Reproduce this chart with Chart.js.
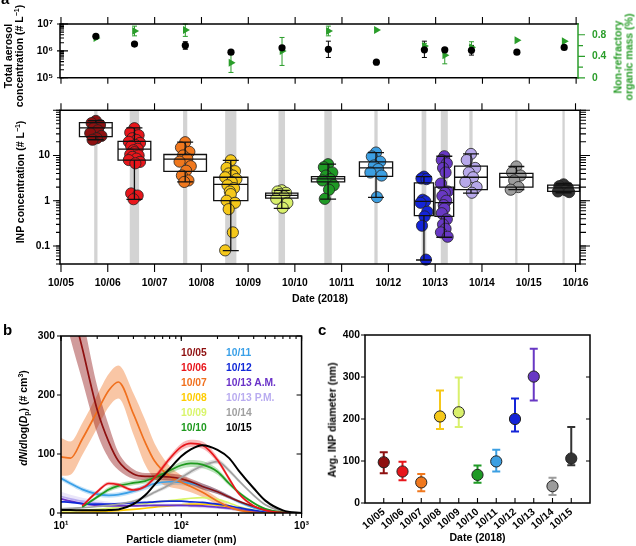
<!DOCTYPE html>
<html><head><meta charset="utf-8">
<script src="https://cdn.jsdelivr.net/npm/chart.js@4.4.1/dist/chart.umd.min.js"></script>
<style>
html,body{margin:0;padding:0;background:#fff;}
#wrap{position:relative;width:636px;height:546px;overflow:hidden;font-family:'Liberation Sans',Arial,sans-serif;}
canvas{position:absolute;}
.t{position:absolute;font-weight:bold;white-space:nowrap;line-height:12px;font-size:10.3px;}
.vt{position:absolute;transform:translate(-50%,-50%) rotate(-90deg);white-space:nowrap;font-weight:bold;font-size:10.5px;line-height:10.5px;text-align:center;}
sup{font-size:7px;vertical-align:4px;line-height:0;}
sub{font-size:7px;vertical-align:-2px;line-height:0;}
</style></head><body>
<div id="wrap">
<canvas id="cA1" width="636" height="98" style="left:0px;top:0px"></canvas>
<canvas id="cA2" width="636" height="216" style="left:0px;top:94px"></canvas>
<canvas id="cB" width="316" height="228" style="left:0px;top:318px"></canvas>
<canvas id="cC" width="320" height="228" style="left:316px;top:318px"></canvas>

<div class="t" style="left:1px;top:-9px;font-size:15px;line-height:15px">a</div>
<div class="t" style="left:3px;top:322px;font-size:15px;line-height:15px">b</div>
<div class="t" style="left:318px;top:322px;font-size:15px;line-height:15px">c</div>

<div class="vt" style="left:13px;top:56px">Total aerosol<br>concentration (# L<sup>−1</sup>)</div>
<div class="vt" style="left:20px;top:182px">INP concentration (# L<sup>−1</sup>)</div>
<div class="vt" style="left:623px;top:57px;color:#2a9d2a">Non-refractory<br>organic mass (%)</div>
<div class="vt" style="left:23px;top:418px"><i>dN</i>/<i>d</i>log(<i>D</i><sub>p</sub>) (# cm<sup>3</sup>)</div>
<div class="vt" style="left:332px;top:420px">Avg. INP diameter (nm)</div>
<div id="legB"></div>
</div>
<script>
// ================= DATA =================
// panel a : x = days since 10/05 00:00
const dayLabels = ['10/05','10/06','10/07','10/08','10/09','10/10','10/11','10/12','10/13','10/14','10/15','10/16'];
const sampleNames = ['10/05','10/06','10/07','10/08','10/09','10/10','10/11','10/12','10/13 A.M.','10/13 P.M.','10/14','10/15'];
const sampleStart = [0.71, 1.47, 2.61, 3.51, 4.65, 5.63, 6.70, 7.71, 8.12, 8.73, 9.71, 10.72];
const sampleEnd   = [0.78, 1.67, 2.70, 3.75, 4.79, 5.79, 6.77, 7.81, 8.27, 8.80, 9.76, 10.77];

const totalAerosol = [3.5e6, 1.8e6, 1.6e6, 9.0e5, 1.3e6, 1.15e6, 3.8e5, 1.1e6, 1.1e6, 1.05e6, 9.0e5, 1.35e6];
const totalLo      = [3.5e6, 1.8e6, 1.15e6, 9.0e5, 1.1e6, 5.7e5, 3.5e5, 5.7e5, 8.5e5, 7.0e5, 9.0e5, 1.35e6];
const totalHi      = [3.5e6, 1.8e6, 2.2e6, 9.0e5, 1.5e6, 2.3e6, 4.2e5, 2.3e6, 1.3e6, 1.6e6, 9.0e5, 1.35e6];

const organicFrac = [0.74, 0.87, 0.89, 0.28, 0.50, 0.87, 0.89, 0.59, 0.42, 0.57, 0.70, 0.68];
const organicLo   = [0.74, 0.78, 0.77, 0.10, 0.23, 0.78, 0.89, 0.54, 0.26, 0.49, 0.70, 0.68];
const organicHi   = [0.74, 0.96, 1.00, 0.46, 0.75, 0.96, 0.89, 0.64, 0.52, 0.67, 0.70, 0.68];

const boxWhiskLo = [22.2, 1.07, 2.6, 0.079, 0.68, 1.08, 1.19, 0.049, 0.156, 1.47, 1.75, 1.5];
const boxQ1      = [26, 7.9, 4.47, 1.0, 1.14, 2.6, 3.45, 0.47, 0.45, 1.75, 2.0, 1.61];
const boxMedian  = [40.6, 13.8, 8.3, 2.3, 1.31, 3.05, 5.3, 0.97, 0.91, 3.3, 3.3, 1.92];
const boxQ3      = [53, 20.5, 10.5, 3.3, 1.47, 3.4, 7.2, 2.47, 1.99, 5.8, 4.0, 2.2];
const boxWhiskHi = [58.6, 40.6, 19.6, 7.8, 1.69, 6.4, 11.6, 3.4, 9.6, 10.8, 5.7, 2.4];

const inp1005 = [58, 52, 47, 40, 36, 31, 27, 24, 22.2];
const inp1006 = [40, 32, 28, 24, 22, 20, 18.9, 17, 16, 14, 13, 11.8, 10.5, 10, 9.3, 8.5, 7.9, 7.2, 6.7, 1.45, 1.3, 1.08];
const inp1007 = [19.6, 15, 12, 10, 8.5, 7.3, 5.8, 4.6, 3.6, 2.8, 2.6];
const inp1008 = [7.8, 5.3, 4.5, 4.0, 3.6, 3.3, 3.0, 2.6, 2.2, 1.9, 1.6, 1.4, 1.0, 0.9, 0.65, 0.2, 0.08];
const inp1009 = [1.7, 1.6, 1.5, 1.4, 1.25, 1.1, 0.9, 0.7];
const inp1010 = [6.4, 5.5, 4.2, 3.6, 3.0, 2.8, 2.2, 1.75, 1.1];
const inp1011 = [11.6, 9.5, 7.3, 6.0, 5.0, 4.2, 3.6, 1.2];
const inp1012 = [3.4, 3.1, 3.0, 1.05, 0.97, 0.9, 0.57, 0.45, 0.28, 0.05];
const inp1013am = [9.6, 7.9, 6.7, 5.3, 4.2, 2.4, 1.6, 1.5, 1.27, 1.0, 0.8, 0.67, 0.53, 0.39, 0.3, 0.24, 0.2, 0.16];
const inp1013pm = [10.8, 7.9, 5.3, 4.2, 3.3, 2.6, 2.0, 1.5];
const inp1014 = [5.7, 4.2, 3.6, 2.8, 2.0, 1.75];
const inp1015 = [2.3, 2.1, 1.95, 1.8, 1.7, 1.6, 1.55];

// panel b : size distributions
const sizeNm = [10, 12, 15, 20, 25, 30, 40, 50, 60, 80, 100, 120, 150, 200, 250, 300, 400, 500, 700, 1000];
const psd1005 = [430, 360, 280, 175, 120, 88, 66, 62, 62, 61, 58, 53, 45, 36, 27, 20, 11, 5, 1, 0];
const psd1006 = [null, null, 12, 36, 50, 48, 39, 45, 60, 92, 112, 118, 115, 90, 58, 33, 12, 4.5, 0.5, 0];
const psd1007 = [95, 93, 125, 172, 208, 222, 168, 120, 88, 62, 52, 45, 35, 20, 10, 5, 1, 0.3, 0, 0];
const psd1008 = [1, 1, 1.5, 2, 3, 4, 6, 8, 10, 12, 14, 15, 15, 13, 10, 7, 3, 1.5, 0.3, 0];
const psd1009 = [4, 4, 5, 6, 8, 10, 13, 16, 18, 21, 23, 25, 26, 23, 17, 11, 5, 2, 0.5, 0];
const psd1010 = [null, null, 10, 27, 40, 46, 51, 54, 60, 72, 81, 84, 82, 70, 50, 35, 17, 7, 1, 0];
const psd1011 = [59, 50, 40, 32, 30, 31, 37, 44, 50, 53, 52, 50, 45, 36, 27, 19, 9, 4, 1, 0];
const psd1012 = [19, 18, 16, 15, 15, 16, 17, 18, 19, 20, 20, 19, 18, 15, 12, 9, 4.5, 2, 0.5, 0];
const psd1013am = [24, 20, 16, 13, 12, 12, 12, 12.5, 13, 13, 13, 12.5, 12, 10, 8, 6, 3, 1.5, 0.3, 0];
const psd1013pm = [28, 24, 20, 17, 15, 14, 13, 13, 13, 13, 13, 12, 11, 9, 7, 5, 2.5, 1, 0.2, 0];
const psd1014 = [7, 8, 9, 11, 13, 15, 20, 27, 35, 48, 60, 70, 80, 87, 72, 55, 30, 14, 3, 0];
const psd1015 = [5, 5, 4.5, 4.5, 5, 6, 15, 30, 48, 75, 96, 108, 115, 107, 93, 72, 42, 21, 4.5, 0];
// shaded spread (half width)
const sd1005 = [70, 65, 55, 40, 28, 15, 8, 6, 6, 6, 6, 5, 5, 4, 3, 2, 1, 0.5, 0, 0];
const sd1006 = [null, null, 2, 3, 3, 3, 3, 3, 4, 5, 6, 6, 6, 5, 4, 3, 2, 1, 0, 0];
const sd1007 = [32, 28, 27, 28, 28, 28, 35, 38, 30, 18, 12, 10, 8, 6, 4, 2, 1, 0, 0, 0];
const sd1010 = [null, null, 2, 3, 4, 4, 4, 4, 5, 5, 6, 6, 6, 5, 4, 3, 2, 1, 0, 0];
const sd1011 = [4, 4, 4, 4, 4, 4, 4, 5, 5, 5, 5, 5, 5, 4, 3, 3, 2, 1, 0, 0];
const sd1013pm = [8, 7, 6, 5, 4, 3, 3, 3, 3, 3, 3, 3, 3, 2, 2, 1, 1, 0, 0, 0];
const sd1014 = [1, 1, 1, 1, 1, 2, 2, 3, 3, 4, 4, 4, 4, 4, 4, 3, 2, 1, 0, 0];

// panel c
const avgDates = ['10/05','10/06','10/07','10/08','10/09','10/10','10/11','10/12','10/13','10/14','10/15'];
const avgDiam = [97, 75, 49, 206, 216, 67, 99, 200, 301, 40, 106];
const avgHi   = [121, 98, 69, 268, 299, 89, 127, 249, 367, 60, 181];
const avgLo   = [71, 54, 28, 176, 181, 48, 75, 170, 244, 19, 90];

// ================= STYLE =================
const GREEN = '#2a9d2a';
const sampleColors = ['#8e1010','#e8161b','#f0781e','#f5c81a','#d9f06c','#1f9a25','#3c9fe2','#1424d8','#6838c4','#b7a8ea','#9c9c9c','#333333'];
const psdColors    = ['#8e1010','#e8161b','#f0701e','#ffcc00','#d9f56b','#1f9a1f','#3aa0e8','#1028d8','#6a32c8','#b9acf0','#a0a0a0','#000000'];
const avgColors    = ['#8e1010','#e8161b','#f0781e','#f5c81a','#d9f06c','#1f9a25','#3c9fe2','#1424d8','#6838c4','#9c9c9c','#333333'];
const boxWidthDays = [0.70,0.70,0.91,0.73,0.69,0.71,0.71,0.41,0.40,0.70,0.71,0.68];
const jitter = [0, -0.09, 0.09, -0.045, 0.045, -0.12, 0.12, 0.02, -0.07, 0.07, -0.02];

Chart.defaults.font.family = "'Liberation Sans', Arial, sans-serif";
Chart.defaults.font.size = 10.3;
Chart.defaults.font.weight = 'bold';
Chart.defaults.color = '#000';

const sampleMid = sampleStart.map((s,i)=>(s+sampleEnd[i])/2);
const fixW = w => s => { s.width = w; };
const fixH = h => s => { s.height = h; };
const setTicks = vals => s => { s.ticks = vals.map(v=>({value:v})); };
const noGrid = {display:false, drawTicks:false};
const noBorder = {display:false};
const SUP = {'-':'⁻','0':'⁰','1':'¹','2':'²','3':'³','4':'⁴','5':'⁵','6':'⁶','7':'⁷','8':'⁸','9':'⁹'};
const expLabel = v => '10' + String(Math.round(Math.log10(v))).split('').map(ch=>SUP[ch]).join('');
function logMinor(lo, hi){ const out=[]; for(let e=Math.floor(Math.log10(lo)); e<=Math.ceil(Math.log10(hi)); e++){ for(let m=1;m<10;m++){ const v=m*Math.pow(10,e); if(v>=lo*0.999 && v<=hi*1.001) out.push(v);} } return out; }
const range = (a,b,st=1)=>{const o=[];for(let v=a;v<=b+1e-9;v+=st)o.push(v);return o;};

function drawTicks(chart, id, values, side, outLen, inLen, color, lw){
  const ctx=chart.ctx, a=chart.chartArea, s=chart.scales[id];
  ctx.save(); ctx.strokeStyle=color||'#000'; ctx.lineWidth=lw||1.1; ctx.beginPath();
  values.forEach(v=>{
    const p=s.getPixelForValue(v);
    if(side==='left'){ctx.moveTo(a.left-outLen,p);ctx.lineTo(a.left+inLen,p);}
    else if(side==='right'){ctx.moveTo(a.right+outLen,p);ctx.lineTo(a.right-inLen,p);}
    else if(side==='top'){ctx.moveTo(p,a.top-outLen);ctx.lineTo(p,a.top+inLen);}
    else {ctx.moveTo(p,a.bottom+outLen);ctx.lineTo(p,a.bottom-inLen);}
  });
  ctx.stroke(); ctx.restore();
}
function drawFrame(chart, sides, color, lw){
  const ctx=chart.ctx, a=chart.chartArea;
  ctx.save(); ctx.strokeStyle=color||'#000'; ctx.lineWidth=lw||1.5; ctx.lineCap='square'; ctx.beginPath();
  if(sides.includes('t')){ctx.moveTo(a.left,a.top);ctx.lineTo(a.right,a.top);}
  if(sides.includes('b')){ctx.moveTo(a.left,a.bottom);ctx.lineTo(a.right,a.bottom);}
  if(sides.includes('l')){ctx.moveTo(a.left,a.top);ctx.lineTo(a.left,a.bottom);}
  if(sides.includes('r')){ctx.moveTo(a.right,a.top);ctx.lineTo(a.right,a.bottom);}
  ctx.stroke(); ctx.restore();
}
function errBar(ctx, x, y0, y1, cap, color, lw){
  ctx.save(); ctx.strokeStyle=color; ctx.lineWidth=lw; ctx.beginPath();
  ctx.moveTo(x,y0); ctx.lineTo(x,y1);
  ctx.moveTo(x-cap,y0); ctx.lineTo(x+cap,y0);
  ctx.moveTo(x-cap,y1); ctx.lineTo(x+cap,y1);
  ctx.stroke(); ctx.restore();
}

const X0 = -0.021;
const commonOpts = {responsive:false, animation:false, devicePixelRatio:1, plugins:{legend:{display:false}, tooltip:{enabled:false}}};
const titleFont = {size:10.5, weight:'bold'};

// ================= PANEL a (top) =================
new Chart(document.getElementById('cA1'), {
  type:'scatter',
  data:{datasets:[
    {data: sampleMid.map((x,i)=>({x, y: totalAerosol[i]})), yAxisID:'y', pointRadius:3.6, backgroundColor:'#000', borderColor:'#000', borderWidth:0},
    {data: sampleMid.map((x,i)=>({x, y: organicFrac[i]})), yAxisID:'y2', pointStyle:'triangle', rotation:90, pointRadius:4.6, backgroundColor:GREEN, borderColor:GREEN, borderWidth:0}
  ]},
  options:Object.assign({}, commonOpts, {
    layout:{padding:0}, clip:false,
    scales:{
      x:{type:'linear', position:'bottom', min:X0, max:11.04, ticks:{display:false}, grid:noGrid, border:noBorder, afterFit:fixH(8)},
      xt:{type:'linear', position:'top', min:X0, max:11.04, ticks:{display:false}, grid:noGrid, border:noBorder, afterFit:fixH(24)},
      y:{type:'logarithmic', position:'left', min:1e5, max:1e7, afterBuildTicks:setTicks([1e5,1e6,1e7]), ticks:{padding:7, callback:v=>expLabel(v)}, grid:noGrid, border:noBorder, afterFit:fixW(60)},
      y2:{type:'linear', position:'right', min:0, max:1, afterBuildTicks:setTicks([0,0.4,0.8]), ticks:{padding:14, color:GREEN, callback:v=>v===0?'0':v.toFixed(1)}, grid:noGrid, border:noBorder, afterFit:fixW(58)}
    }
  }),
  plugins:[{id:'a1deco',
    beforeDatasetsDraw(c){
      const ctx=c.ctx, x=c.scales.x, y=c.scales.y, y2=c.scales.y2;
      sampleMid.forEach((d,i)=>{
        const px=x.getPixelForValue(d);
        if(totalHi[i]>totalLo[i]) errBar(ctx, px, y.getPixelForValue(totalLo[i]), y.getPixelForValue(totalHi[i]), 2.5, '#000', 1);
        if(organicHi[i]>organicLo[i]) errBar(ctx, px, y2.getPixelForValue(organicLo[i]), y2.getPixelForValue(organicHi[i]), 2.5, GREEN, 1);
      });
    },
    afterDraw(c){
      drawFrame(c,'tbl','#000',1.5);
      drawFrame(c,'r',GREEN,1.5);
      drawTicks(c,'x',range(0,11),'top',7,0);
      drawTicks(c,'x',range(0,11),'bottom',6,0);
      drawTicks(c,'y',[1e5,1e6,1e7],'left',3,8);
      drawTicks(c,'y',logMinor(1e5,1e7),'left',0,4);
      drawTicks(c,'y2',[0,0.4,0.8],'right',7,0,GREEN,1.2);
      drawTicks(c,'y2',[0.2,0.6],'right',5,0,GREEN,1.2);
    }
  }]
});

// ================= PANEL a (INP box plots) =================
const inpGroups = [inp1005, inp1006, inp1007, inp1008, inp1009, inp1010, inp1011, inp1012, inp1013am, inp1013pm, inp1014, inp1015];
new Chart(document.getElementById('cA2'), {
  type:'scatter',
  data:{datasets: inpGroups.map((arr,g)=>({
    label: sampleNames[g],
    data: arr.map((v,j)=>({x: sampleMid[g] + jitter[j%jitter.length]*(boxWidthDays[g]<0.5?0.6:1), y:v})),
    pointRadius:5.6, backgroundColor:sampleColors[g], borderColor:'#222', borderWidth:0.8
  }))},
  options:Object.assign({}, commonOpts, {
    layout:{padding:{top:7, right:56}}, clip:false,
    scales:{
      x:{type:'linear', position:'bottom', min:X0, max:11.096, afterBuildTicks:setTicks(range(0,11)),
         ticks:{padding:13, autoSkip:false, maxRotation:0, callback:v=>dayLabels[Math.round(v)]},
         grid:noGrid, border:noBorder, afterFit:fixH(46),
         title:{display:true, text:'Date (2018)', font:titleFont, padding:{top:0, bottom:5}}},
      y:{type:'logarithmic', position:'left', min:0.04, max:100, afterBuildTicks:setTicks([0.1,1,10]),
         ticks:{padding:10, callback:v=>String(v)}, grid:noGrid, border:noBorder, afterFit:fixW(60)}
    }
  }),
  plugins:[{id:'a2deco',
    beforeDatasetsDraw(c){
      const ctx=c.ctx, a=c.chartArea, x=c.scales.x;
      ctx.save(); ctx.fillStyle='#d3d3d3';
      sampleStart.forEach((s,i)=>{ const x0=x.getPixelForValue(s), x1=x.getPixelForValue(sampleEnd[i]); ctx.fillRect(x0,a.top,x1-x0,a.bottom-a.top); });
      ctx.restore();
    },
    afterDatasetsDraw(c){
      const ctx=c.ctx, x=c.scales.x, y=c.scales.y;
      ctx.save(); ctx.strokeStyle='#111'; ctx.lineWidth=1.3;
      sampleMid.forEach((m,i)=>{
        const hw=boxWidthDays[i]/2;
        const xl=x.getPixelForValue(m-hw), xr=x.getPixelForValue(m+hw), xc=x.getPixelForValue(m);
        const q1=y.getPixelForValue(boxQ1[i]), q3=y.getPixelForValue(boxQ3[i]), md=y.getPixelForValue(boxMedian[i]);
        const lo=y.getPixelForValue(boxWhiskLo[i]), hi=y.getPixelForValue(boxWhiskHi[i]);
        ctx.beginPath();
        ctx.rect(xl,q3,xr-xl,q1-q3);
        ctx.moveTo(xl,md); ctx.lineTo(xr,md);
        ctx.moveTo(xc,q3); ctx.lineTo(xc,hi); ctx.moveTo(xc-8,hi); ctx.lineTo(xc+8,hi);
        ctx.moveTo(xc,q1); ctx.lineTo(xc,lo); ctx.moveTo(xc-8,lo); ctx.lineTo(xc+8,lo);
        ctx.stroke();
      });
      ctx.restore();
    },
    afterDraw(c){
      drawFrame(c,'tblr','#000',1.5);
      drawTicks(c,'x',range(0,11),'top',7,0);
      drawTicks(c,'x',range(0,11),'bottom',8,0);
      drawTicks(c,'y',[0.1,1,10,100],'left',7,0);
      drawTicks(c,'y',logMinor(0.04,100),'left',4,0);
      drawTicks(c,'y',[0.1,1,10,100],'right',10,0);
      drawTicks(c,'y',logMinor(0.04,100),'right',6,0);
    }
  }]
});

// ================= PANEL b =================
const psdSeries = [
  {v:psd1015, sd:null,    c:11, ord:0},
  {v:psd1006, sd:sd1006,  c:1,  ord:1},
  {v:psd1010, sd:sd1010,  c:5,  ord:2},
  {v:psd1014, sd:sd1014,  c:10, ord:3},
  {v:psd1005, sd:sd1005,  c:0,  ord:4},
  {v:psd1007, sd:sd1007,  c:2,  ord:5},
  {v:psd1011, sd:sd1011,  c:6,  ord:6},
  {v:psd1012, sd:null,    c:7,  ord:7},
  {v:psd1013am, sd:null,  c:8,  ord:8},
  {v:psd1013pm, sd:sd1013pm, c:9, ord:9},
  {v:psd1009, sd:null,    c:4,  ord:10},
  {v:psd1008, sd:null,    c:3,  ord:11}
];
function rgba(hex,a){const n=parseInt(hex.slice(1),16);return `rgba(${n>>16},${(n>>8)&255},${n&255},${a})`;}
const bDatasets=[];
psdSeries.forEach(s=>{
  bDatasets.push({data:sizeNm.map((d,i)=>({x:d,y:s.v[i]})), borderColor:psdColors[s.c], borderWidth:s.c===11?2:1.7,
    pointRadius:0, cubicInterpolationMode:'monotone', fill:false, order:s.ord, spanGaps:false});
});
psdSeries.forEach(s=>{
  if(!s.sd) return;
  const idx=bDatasets.length;
  const alpha = s.c===0?0.42:(s.c===2?0.4:0.3);
  bDatasets.push({data:sizeNm.map((d,i)=>({x:d,y:s.v[i]===null?null:s.v[i]+s.sd[i]})), borderWidth:0, borderColor:'rgba(0,0,0,0)',
    backgroundColor:rgba(psdColors[s.c],alpha), pointRadius:0, cubicInterpolationMode:'monotone', fill:idx+1, order:50+s.ord});
  bDatasets.push({data:sizeNm.map((d,i)=>({x:d,y:s.v[i]===null?null:Math.max(0,s.v[i]-s.sd[i])})), borderWidth:0, borderColor:'rgba(0,0,0,0)',
    pointRadius:0, cubicInterpolationMode:'monotone', fill:false, order:50+s.ord});
});
new Chart(document.getElementById('cB'), {
  type:'line',
  data:{datasets:bDatasets},
  options:Object.assign({}, commonOpts, {
    layout:{padding:{top:18, right:14}},
    scales:{
      x:{type:'logarithmic', position:'bottom', min:10, max:1000, afterBuildTicks:setTicks([10,100,1000]),
         ticks:{padding:7, autoSkip:false, maxRotation:0, callback:v=>expLabel(v)}, grid:noGrid, border:noBorder, afterFit:fixH(33),
         title:{display:true, text:'Particle diameter (nm)', font:titleFont, padding:{top:0,bottom:0}}},
      y:{type:'linear', position:'left', min:0, max:300, afterBuildTicks:setTicks([0,100,200,300]),
         ticks:{padding:6}, grid:noGrid, border:noBorder, afterFit:fixW(61)}
    }
  }),
  plugins:[{id:'bdeco', afterDraw(c){
    drawFrame(c,'tblr','#000',1.5);
    drawTicks(c,'x',[10,100,1000],'bottom',5,0);
    drawTicks(c,'x',logMinor(10,1000),'bottom',3,0);
    drawTicks(c,'x',[10,100,1000],'top',0,5);
    drawTicks(c,'x',logMinor(10,1000),'top',0,3);
    drawTicks(c,'y',[0,100,200,300],'left',4,0);
    drawTicks(c,'y',[0,100,200,300],'right',0,5);
  }}]
});
// legend for b (HTML text)
(function(){
  const leg=document.getElementById('legB');
  sampleNames.forEach((name,k)=>{
    const col=Math.floor(k/6), row=k%6;
    const d=document.createElement('div'); d.className='t';
    d.style.left=(col===0?181:226)+'px'; d.style.top=(353+row*15-6)+'px';
    d.style.color=psdColors[k]; d.textContent=name;
    leg.appendChild(d);
  });
})();

// ================= PANEL c =================
new Chart(document.getElementById('cC'), {
  type:'scatter',
  data:{datasets:[{data:avgDiam.map((v,i)=>({x:i,y:v})), pointRadius:5.6, backgroundColor:avgColors, borderColor:'#222', borderWidth:1}]},
  options:Object.assign({}, commonOpts, {
    layout:{padding:{top:17, right:46}}, clip:false,
    scales:{
      x:{type:'linear', position:'bottom', min:-1, max:11, afterBuildTicks:setTicks(range(0,10)),
         ticks:{padding:3, autoSkip:false, maxRotation:40, minRotation:40, callback:v=>avgDates[Math.round(v)]},
         grid:noGrid, border:noBorder, afterFit:fixH(43),
         title:{display:true, text:'Date (2018)', font:titleFont, padding:{top:0,bottom:2}}},
      y:{type:'linear', position:'left', min:0, max:400, afterBuildTicks:setTicks([0,100,200,300,400]),
         ticks:{padding:5}, grid:noGrid, border:noBorder, afterFit:fixW(49)}
    }
  }),
  plugins:[{id:'cdeco',
    beforeDatasetsDraw(c){
      const ctx=c.ctx, x=c.scales.x, y=c.scales.y;
      avgDiam.forEach((v,i)=>{ errBar(ctx, x.getPixelForValue(i), y.getPixelForValue(avgLo[i]), y.getPixelForValue(avgHi[i]), 4, avgColors[i], 2); });
    },
    afterDraw(c){
      drawFrame(c,'tblr','#000',1.5);
      drawTicks(c,'y',[0,100,200,300,400],'left',4,0);
      drawTicks(c,'y',[100,200,300],'right',0,4);
      drawTicks(c,'x',range(0,10),'bottom',0,5);
    }
  }]
});
</script>
</body></html>
